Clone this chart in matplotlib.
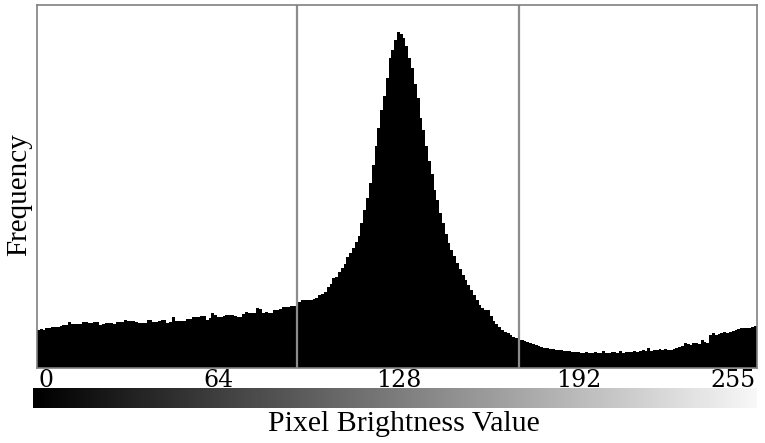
"""
Histogram of pixel brightness with a grey-scale key underneath
"""

import numpy as np
import matplotlib.pyplot as plt

# frequency per brightness level 0..255 (arbitrary units)
counts_0_63 = [
    38, 39, 38, 40, 40, 41, 41, 41, 42, 43, 43, 46, 44, 44, 44, 44,
    46, 46, 45, 45, 46, 46, 43, 44, 45, 45, 45, 44, 46, 46, 46, 48,
    47, 47, 47, 46, 45, 45, 45, 48, 48, 46, 46, 47, 48, 48, 45, 46,
    51, 47, 47, 47, 47, 49, 49, 51, 51, 51, 52, 52, 48, 50, 55, 53,
]
counts_64_127 = [
    51, 51, 52, 53, 53, 53, 52, 51, 51, 54, 56, 55, 55, 55, 60, 59,
    55, 56, 55, 55, 58, 58, 59, 61, 61, 61, 62, 62, 66, 66, 68, 68,
    68, 68, 69, 70, 73, 74, 76, 81, 84, 90, 91, 96, 100, 104, 111, 115,
    120, 126, 132, 145, 158, 170, 185, 203, 222, 240, 258, 272, 290, 310, 318, 328,
]
counts_128_191 = [
    336, 334, 330, 322, 310, 300, 284, 270, 250, 238, 222, 207, 194, 178, 168, 155,
    145, 134, 125, 118, 112, 105, 99, 93, 88, 83, 78, 73, 68, 63, 60, 58,
    58, 52, 47, 44, 41, 38, 36, 35, 33, 31, 30, 28, 28, 27, 26, 25,
    24, 23, 22, 21, 20, 20, 19, 19, 18, 18, 18, 17, 17, 17, 16, 16,
]
counts_192_255 = [
    16, 15, 15, 16, 15, 15, 16, 15, 15, 17, 15, 15, 16, 16, 15, 17,
    15, 16, 16, 16, 17, 16, 17, 18, 17, 20, 17, 18, 18, 19, 18, 19,
    18, 18, 19, 20, 21, 22, 25, 24, 23, 25, 25, 24, 28, 26, 25, 33,
    35, 33, 34, 35, 36, 35, 36, 37, 38, 39, 40, 40, 40, 40, 41, 42,
]
counts = counts_0_63 + counts_64_127 + counts_128_191 + counts_192_255

tick_values = [0, 64, 128, 192, 255]
tick_labels = ['0', '64', '128', '192', '255']
thresholds = [92, 171]

fig = plt.figure(figsize=(7.65, 4.43), dpi=100)
ax = fig.add_axes([37 / 765, 75 / 443, 720 / 765, 363 / 443])

edges = np.arange(len(counts) + 1) - 0.5
ax.stairs(counts, edges, fill=True, color='black', linewidth=0)
for t in thresholds:
    ax.axvline(t, color='#8c8c8c', linewidth=1.6)

ax.set_xlim(-0.5, 255.5)
ax.set_ylim(0, 363)
ax.set_yticks([])
ax.set_xticks(tick_values)
ax.set_xticklabels(tick_labels, family='DejaVu Serif', fontsize=17)
ax.tick_params(axis='x', length=0, pad=1)
labels = ax.get_xticklabels()
labels[0].set_horizontalalignment('left')
labels[-1].set_horizontalalignment('right')
for s in ax.spines.values():
    s.set_color('#808080')
    s.set_linewidth(1.2)

# grey-scale key under the axis
gax = fig.add_axes([33 / 765, 35 / 443, 724 / 765, 20 / 443])
gradient = np.linspace(0, 1, 256).reshape(1, -1)
gax.imshow(gradient, aspect='auto', cmap='gray', vmin=0, vmax=1.03)
gax.set_axis_off()

fig.text(404 / 765, 1 - 424 / 443, 'Pixel Brightness Value', family='Liberation Serif',
         fontsize=21.5, ha='center', va='center')
fig.text(19 / 765, 1 - 195 / 443, 'Frequency', family='Liberation Serif',
         fontsize=21, rotation=90, ha='center', va='center')

plt.savefig('out.png', dpi=100)
plt.close()
